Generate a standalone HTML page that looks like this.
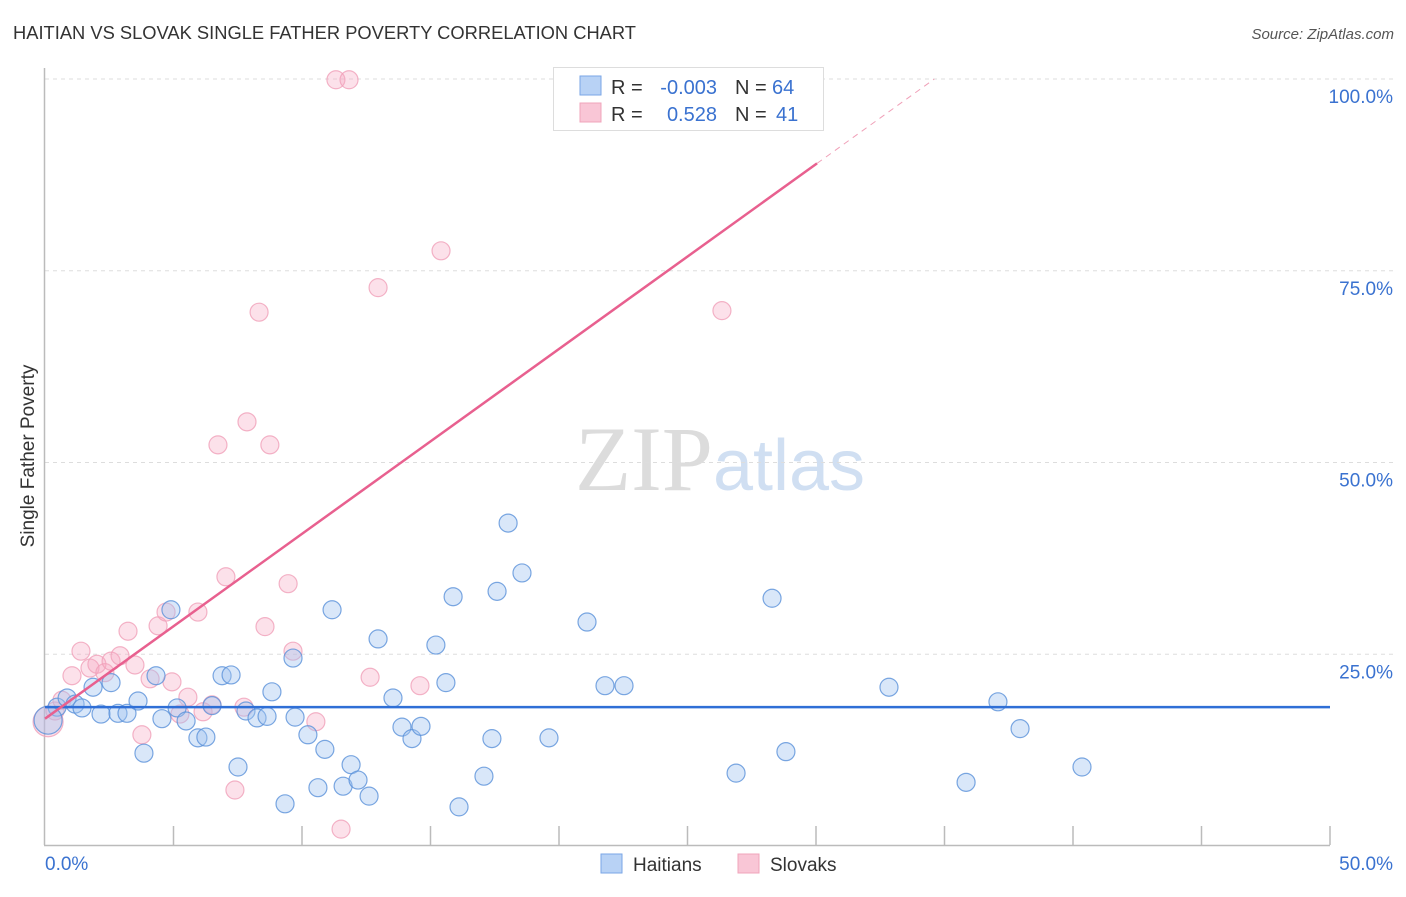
<!DOCTYPE html>
<html><head><meta charset="utf-8"><style>
body{margin:0;background:#fff;font-family:"Liberation Sans",sans-serif}
svg text{font-family:"Liberation Sans",sans-serif}
</style></head><body>
<svg id="chart" width="1406" height="892" xmlns="http://www.w3.org/2000/svg">
<text x="13" y="39" font-size="18.5" fill="#333" textLength="623" lengthAdjust="spacingAndGlyphs">HAITIAN VS SLOVAK SINGLE FATHER POVERTY CORRELATION CHART</text>
<text x="1394" y="39" font-size="15" fill="#555" text-anchor="end" font-style="italic">Source: ZipAtlas.com</text>
<text x="720" y="490" font-size="92" text-anchor="middle" fill="#ddd" opacity="0.8"><tspan font-family="Liberation Serif" fill="#d4d4d4">ZIP</tspan><tspan fill="#c5d8f0" font-size="72">atlas</tspan></text>
<g id="grid"></g>
<line x1="44.5" y1="68" x2="44.5" y2="845" stroke="#bbb" stroke-width="1.5"/>
<line x1="44" y1="845.5" x2="1330" y2="845.5" stroke="#bbb" stroke-width="1.5"/>
<g id="xticks"></g>
<text transform="translate(34,456) rotate(-90)" font-size="19" fill="#333" text-anchor="middle">Single Father Poverty</text>
<text x="45" y="870" font-size="19" fill="#3a72d0">0.0%</text>
<text x="1393" y="870" font-size="19" fill="#3a72d0" text-anchor="end">50.0%</text>
<g id="pts"></g>
<g id="trend"></g>
<g>
<rect x="553.5" y="67.5" width="270" height="63" fill="#fff" stroke="#ddd"/>
<rect x="580" y="76" width="21" height="19" fill="#b8d2f5" stroke="#7aa6e6"/>
<rect x="580" y="103" width="21" height="19" fill="#f9c6d6" stroke="#f0a4bb"/>
<text x="611" y="94" font-size="20" fill="#333">R = </text><text x="717" y="94" font-size="20" fill="#3a72d0" text-anchor="end">-0.003</text>
<text x="735" y="94" font-size="20" fill="#333">N = </text><text x="772" y="94" font-size="20" fill="#3a72d0">64</text>
<text x="611" y="121" font-size="20" fill="#333">R = </text><text x="717" y="121" font-size="20" fill="#3a72d0" text-anchor="end">0.528</text>
<text x="735" y="121" font-size="20" fill="#333">N = </text><text x="776" y="121" font-size="20" fill="#3a72d0">41</text>
</g>
<g>
<rect x="601" y="854" width="21" height="19" fill="#b8d2f5" stroke="#7aa6e6"/>
<text x="633" y="871" font-size="19" fill="#333">Haitians</text>
<rect x="738" y="854" width="21" height="19" fill="#f9c6d6" stroke="#f0a4bb"/>
<text x="770" y="871" font-size="19" fill="#333">Slovaks</text>
</g>
</svg>
<script>
const yTicks=[25,50,75,100];
const yTickLabels=["25.0%","50.0%","75.0%","100.0%"];
const blueX=[0.47,0.86,1.17,1.44,1.87,2.18,2.57,2.84,3.19,3.62,3.85,4.32,4.55,4.90,5.14,5.49,5.95,6.26,6.50,6.89,7.24,7.51,7.82,8.25,8.64,8.83,9.34,9.65,9.73,10.23,10.62,10.89,11.17,11.60,11.91,12.18,12.61,12.96,13.54,13.89,14.28,14.63,15.21,15.60,15.88,16.11,17.08,17.39,17.59,18.02,18.56,19.61,21.09,21.79,22.53,26.89,28.29,28.83,32.84,35.84,37.08,37.94,40.35,0.12];
const blueY=[18.1,19.3,18.5,18.0,20.7,17.2,21.3,17.3,17.3,18.9,12.1,22.2,16.6,30.8,18.0,16.3,14.1,14.2,18.3,22.2,22.3,10.3,17.6,16.7,16.9,20.1,5.5,24.5,16.8,14.5,7.6,12.6,30.8,7.8,10.6,8.6,6.5,27.0,19.3,15.5,14.0,15.6,26.2,21.3,32.5,5.1,9.1,14.0,33.2,42.1,35.6,14.1,29.2,20.9,20.9,9.5,32.3,12.3,20.7,8.3,18.8,15.3,10.3,16.4];
const pinkX=[0.12,0.39,0.66,1.05,1.40,1.75,2.02,2.33,2.57,2.92,3.23,3.50,3.77,4.09,4.40,4.71,4.94,5.25,5.56,5.95,6.15,6.50,6.73,7.04,7.39,7.74,7.86,8.33,8.56,8.75,9.46,9.65,10.54,11.32,11.52,11.83,12.65,12.96,14.59,15.41,26.34];
const pinkY=[16.2,17.6,19.0,22.2,25.4,23.2,23.7,22.6,24.1,24.8,28.0,23.6,14.5,21.8,28.7,30.5,21.4,17.2,19.4,30.5,17.5,18.4,52.3,35.1,7.3,18.1,55.3,69.6,28.6,52.3,34.2,25.4,16.2,99.9,2.2,99.9,22.0,72.8,20.9,77.6,69.8];
const blueTrend=[18.1,-0.0];   // intercept, slope
const pinkTrend=[16.6,2.41];
const NS="http://www.w3.org/2000/svg";
const X=v=>45+v*25.7, Y=v=>846-v*7.67;
function mk(tag,attrs,parent){const e=document.createElementNS(NS,tag);for(const k in attrs)e.setAttribute(k,attrs[k]);parent.appendChild(e);return e;}
const grid=document.getElementById('grid');
yTicks.forEach((t,i)=>{
 const l=mk('line',{x1:45,x2:1395,y1:Y(t),y2:Y(t),stroke:'#ddd','stroke-dasharray':'4,4'},grid);
 
 
 const tx=mk('text',{x:1393,y:Y(t)+24,'font-size':19,fill:'#3a72d0','text-anchor':'end'},grid);
 tx.textContent=yTickLabels[i];
 
 
});
const xt=document.getElementById('xticks');
for(let v=5;v<=50;v+=5){
 const l=mk('line',{x1:X(v),x2:X(v),y1:826,y2:845,stroke:'#bbb','stroke-width':1.5},xt);
 
 
}
const pts=document.getElementById('pts');
pinkX.forEach((x,i)=>{
 const c=mk('circle',{cx:X(x),cy:Y(pinkY[i]),r:i===0?15:9,fill:'rgba(246,168,194,0.35)',stroke:'rgba(240,160,185,0.8)','stroke-width':1.2},pts);
 
 
});
blueX.forEach((x,i)=>{
 const c=mk('circle',{cx:X(x),cy:Y(blueY[i]),r:i===63?14:9,fill:'rgba(160,196,240,0.4)',stroke:'rgba(90,145,218,0.8)','stroke-width':1.2},pts);
 
 
});
const tr=document.getElementById('trend');
const bl=mk('line',{x1:X(0),y1:Y(blueTrend[0]),x2:X(50),y2:Y(blueTrend[0]+50*blueTrend[1]),stroke:'#2f6fd6','stroke-width':2.5},tr);


const pl=mk('line',{x1:X(0),y1:Y(pinkTrend[0]),x2:X(30.04),y2:Y(pinkTrend[0]+30.04*pinkTrend[1]),stroke:'#e8608f','stroke-width':2.5},tr);


const xe=(100-pinkTrend[0])/pinkTrend[1];
const pd=mk('line',{x1:X(30.04),y1:Y(pinkTrend[0]+30.04*pinkTrend[1]),x2:X(xe),y2:Y(100),stroke:'#f0a0b8','stroke-width':1,'stroke-dasharray':'6,5'},tr);


</script>
</body></html>
